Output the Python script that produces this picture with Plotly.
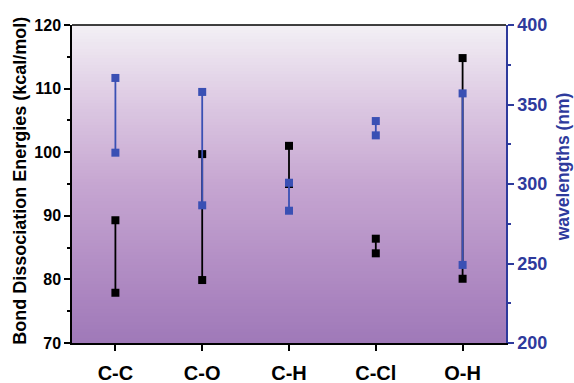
import plotly.graph_objects as go

categories = ["C-C", "C-O", "C-H", "C-Cl", "O-H"]
bde_low = [77.9, 79.9, 95.0, 84.1, 80.1]
bde_high = [89.3, 99.7, 101.0, 86.4, 114.8]
wl_low = [319.7, 286.6, 283.2, 330.6, 249.1]
wl_high = [366.7, 357.9, 300.8, 339.6, 357.0]

BLUE = "#3a50b4"
AXBLUE = "#2e3a9c"


def paired(lows, highs):
    xs, ys = [], []
    for c, lo, hi in zip(categories, lows, highs):
        xs += [c, c, None]
        ys += [lo, hi, None]
    return xs, ys


fig = go.Figure()

# gradient background
grad_y = [70 + i * 0.5 for i in range(101)]
fig.add_trace(go.Heatmap(
    x=categories, y=grad_y,
    z=[[yy] * len(categories) for yy in grad_y],
    colorscale=[[0.0, "#9f79b8"], [0.15, "#ab85c0"], [0.5, "#c6a6d1"],
                [0.75, "#dcc8e2"], [1.0, "#f3f0f5"]],
    zmin=70, zmax=120, showscale=False, hoverinfo="skip",
))

bx, by = paired(bde_low, bde_high)
fig.add_trace(go.Scatter(
    x=bx, y=by, mode="lines+markers", connectgaps=False,
    line=dict(color="black", width=1.8),
    marker=dict(symbol="square", size=8, color="black"),
    showlegend=False,
))

wx, wy = paired(wl_low, wl_high)
fig.add_trace(go.Scatter(
    x=wx, y=wy, yaxis="y2", mode="lines+markers", connectgaps=False,
    line=dict(color=BLUE, width=1.8),
    marker=dict(symbol="square", size=8, color=BLUE),
    showlegend=False,
))

FONT = "Liberation Sans, Arial, sans-serif"

fig.update_layout(
    width=574, height=383,
    margin=dict(l=72, r=68, t=25, b=40, autoexpand=False),
    paper_bgcolor="white", plot_bgcolor="white",
    font=dict(family=FONT, color="black"),
    xaxis=dict(
        type="category", categoryorder="array", categoryarray=categories,
        range=[-0.5, 4.5], showgrid=False, zeroline=False, automargin=False,
        showline=True, linecolor="black", linewidth=1.5, mirror=False,
        ticks="outside", ticklen=6, tickwidth=1.5, tickcolor="black",
        ticklabelstandoff=5,
        tickfont=dict(size=20, family=FONT, color="black", weight="bold"),
    ),
    yaxis=dict(
        range=[70, 120], dtick=10, showgrid=False, zeroline=False, automargin=False,
        showline=True, linecolor="black", linewidth=1.5,
        ticks="outside", ticklen=6, tickwidth=1.5, tickcolor="black",
        minor=dict(dtick=5, ticks="outside", ticklen=3, tickcolor="black", tickwidth=1.5),
        tickfont=dict(size=16, family=FONT, color="black", weight="bold"),
    ),
    yaxis2=dict(
        overlaying="y", side="right", range=[200, 400], dtick=50,
        showgrid=False, zeroline=False, automargin=False,
        showline=True, linecolor=AXBLUE, linewidth=1.5,
        ticks="outside", ticklen=6, tickwidth=1.5, tickcolor=AXBLUE,
        minor=dict(dtick=25, ticks="outside", ticklen=3, tickcolor=AXBLUE, tickwidth=1.5),
        tickfont=dict(size=18, family=FONT, color=AXBLUE, weight="bold"),
    ),
    shapes=[dict(type="line", xref="paper", yref="paper", x0=0, x1=1, y0=1, y1=1,
                 line=dict(color="black", width=1.5))],
    annotations=[
        dict(text="Bond Dissociation Energies (kcal/mol)", xref="paper", yref="paper",
             x=-0.12, y=0.51, xanchor="center", yanchor="middle", textangle=-90,
             showarrow=False,
             font=dict(size=18, family=FONT, color="black", weight="bold")),
        dict(text="wavelengths (nm)", xref="paper", yref="paper",
             x=1.131, y=0.555, xanchor="center", yanchor="middle", textangle=-90,
             showarrow=False,
             font=dict(size=17.5, family=FONT, color=AXBLUE, weight="bold")),
    ],
)

fig.write_html(
    "out.html",
    config={"displayModeBar": False},
    post_script="document.body.style.margin='0';document.body.style.overflow='hidden';",
)
